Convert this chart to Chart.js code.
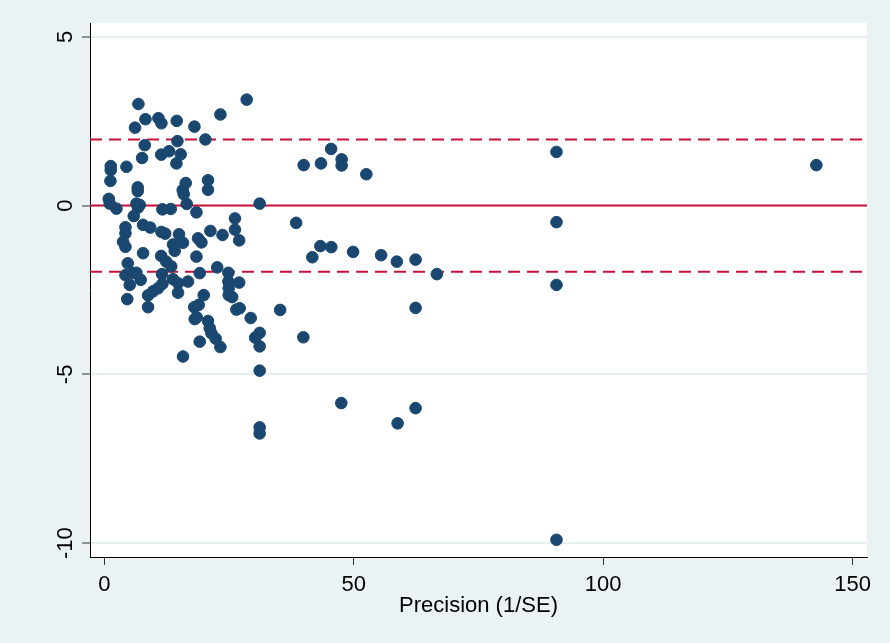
<!DOCTYPE html>
<html>
<head>
<meta charset="utf-8">
<script src="https://cdn.jsdelivr.net/npm/chart.js@4.4.1/dist/chart.umd.min.js"></script>
<style>
  html, body { margin: 0; padding: 0; background: #EAF2F3; }
  canvas { display: block; }
</style>
</head>
<body>
<canvas id="galbraith" width="890" height="643"></canvas>
<script>
// Precision (1/SE) of each study
const precision = [
  6.81, 8.22, 10.82, 11.42, 14.49, 6.13, 18.04, 23.25, 28.52, 14.63,
  20.24, 8.08, 11.38, 12.95, 15.29, 14.43, 7.54, 1.26, 1.26, 4.41,
  1.20, 6.67, 6.67, 16.29, 15.69, 15.89, 20.76, 20.76, 39.94, 43.41,
  45.45, 47.56, 47.56, 52.51, 90.64, 142.75, 0.86, 1.06, 2.40, 6.41,
  7.07, 6.73, 11.62, 13.29, 16.49, 18.44, 31.12, 5.87, 7.74, 9.18,
  4.21, 4.21, 3.73, 4.21, 11.42, 12.18, 14.95, 21.24, 23.67, 26.17,
  26.17, 18.76, 19.44, 27.01, 13.75, 14.09, 15.75, 38.44, 7.74, 11.38,
  12.38, 13.39, 18.44, 4.67, 22.61, 19.10, 24.85, 24.85, 27.01, 4.21,
  5.73, 6.41, 7.27, 5.07, 11.54, 11.62, 13.75, 14.75, 16.75, 4.57,
  8.74, 9.74, 10.74, 14.75, 8.74, 19.90, 18.90, 18.00, 24.91, 24.91,
  25.61, 18.10, 18.50, 26.45, 27.11, 29.32, 20.76, 21.10, 21.44, 22.30,
  23.25, 19.10, 31.12, 30.22, 31.12, 15.75, 31.12, 31.12, 31.12, 35.23,
  39.88, 41.68, 43.29, 45.49, 49.86, 55.47, 58.62, 62.38, 66.65, 62.38,
  47.49, 58.78, 62.38, 90.64, 90.64, 90.64
];

// Standardized effect (estimate / SE) of each study
const zScore = [
  3.01, 2.56, 2.59, 2.44, 2.51, 2.31, 2.34, 2.70, 3.14, 1.91,
  1.96, 1.79, 1.51, 1.61, 1.52, 1.25, 1.41, 1.17, 1.05, 1.15,
  0.73, 0.54, 0.43, 0.67, 0.46, 0.34, 0.75, 0.47, 1.20, 1.25,
  1.68, 1.37, 1.19, 0.93, 1.59, 1.20, 0.20, 0.06, -0.09, 0.06,
  0.02, -0.06, -0.11, -0.10, 0.05, -0.20, 0.06, -0.31, -0.57, -0.65,
  -0.64, -0.82, -1.07, -1.22, -0.78, -0.83, -0.85, -0.75, -0.87, -0.38,
  -0.71, -0.97, -1.09, -1.03, -1.15, -1.34, -1.10, -0.51, -1.41, -1.49,
  -1.66, -1.80, -1.51, -1.71, -1.83, -2.00, -1.99, -2.25, -2.28, -2.06,
  -2.00, -1.99, -2.20, -2.35, -2.03, -2.32, -2.18, -2.30, -2.25, -2.77,
  -2.66, -2.54, -2.45, -2.58, -3.01, -2.65, -2.94, -3.01, -2.45, -2.65,
  -2.71, -3.36, -3.31, -3.08, -3.04, -3.33, -3.42, -3.63, -3.78, -3.94,
  -4.19, -4.03, -3.77, -3.91, -4.17, -4.47, -4.89, -6.57, -6.75, -3.09,
  -3.90, -1.53, -1.20, -1.23, -1.37, -1.47, -1.66, -1.60, -2.03, -3.03,
  -5.85, -6.45, -6.00, -0.49, -2.35, -9.90
];

const xTicks = [0, 50, 100, 150];
const yTicks = [-10, -5, 0, 5];
const xRange = [-2.9, 152.9];
const yRange = [-10.41, 5.41];
const centerLine = 0;
const bandLimits = [1.96, -1.96];
const xTitle = 'Precision (1/SE)';

const FONT = "'Liberation Sans', Arial, Helvetica, sans-serif";
const NAVY = '#1A476F';
const RED = '#C8103A';

const points = precision.map((x, i) => ({ x: x, y: zScore[i] }));
const spanLine = (level) => [{ x: xRange[0], y: level }, { x: xRange[1], y: level }];

const background = {
  id: 'background',
  beforeDraw(chart) {
    const { ctx, chartArea: a } = chart;
    ctx.save();
    ctx.fillStyle = '#EAF2F3';
    ctx.fillRect(0, 0, chart.width, chart.height);
    ctx.fillStyle = '#FFFFFF';
    ctx.fillRect(a.left, a.top, a.right - a.left, a.bottom - a.top);
    ctx.restore();
  }
};

const datasets = [
  {
    type: 'scatter',
    data: points,
    backgroundColor: NAVY,
    borderColor: NAVY,
    borderWidth: 1,
    pointRadius: 5.8,
    pointHoverRadius: 5.8,
    order: 0
  },
  {
    type: 'line',
    data: spanLine(centerLine),
    borderColor: RED,
    borderWidth: 2,
    pointRadius: 0,
    showLine: true,
    order: 1
  }
].concat(bandLimits.map(v => ({
  type: 'line',
  data: spanLine(v),
  borderColor: RED,
  borderWidth: 2,
  borderDash: [12, 7],
  pointRadius: 0,
  showLine: true,
  order: 1
})));

new Chart(document.getElementById('galbraith'), {
  type: 'scatter',
  data: { datasets: datasets },
  plugins: [background],
  options: {
    responsive: false,
    devicePixelRatio: 1,
    animation: false,
    layout: { padding: { left: 0, top: 23, right: 23, bottom: 0 } },
    plugins: { legend: { display: false }, tooltip: { enabled: false } },
    scales: {
      x: {
        type: 'linear',
        min: xRange[0],
        max: xRange[1],
        afterBuildTicks: (s) => { s.ticks = xTicks.map(v => ({ value: v })); },
        afterFit: (s) => { s.height = 86; },
        border: { display: true, color: '#000', width: 1 },
        grid: { drawOnChartArea: false, drawTicks: true, tickLength: 8, tickColor: '#333', tickWidth: 1 },
        ticks: { color: '#000', font: { family: FONT, size: 22 }, padding: 7, maxRotation: 0, autoSkip: false },
        title: { display: true, text: xTitle, color: '#000', font: { family: FONT, size: 22 }, padding: { top: 0, bottom: 24 } }
      },
      y: {
        type: 'linear',
        min: yRange[0],
        max: yRange[1],
        afterBuildTicks: (s) => { s.ticks = yTicks.map(v => ({ value: v })); },
        afterFit: (s) => { s.width = 90; },
        border: { display: true, color: '#000', width: 1 },
        grid: { drawOnChartArea: true, color: '#E6EFF1', lineWidth: 2, drawTicks: true, tickLength: 8, tickColor: '#333', tickWidth: 1 },
        ticks: { color: '#000', font: { family: FONT, size: 22 }, padding: 0, minRotation: 90, maxRotation: 90, crossAlign: 'center', autoSkip: false }
      }
    }
  }
});
</script>
</body>
</html>
